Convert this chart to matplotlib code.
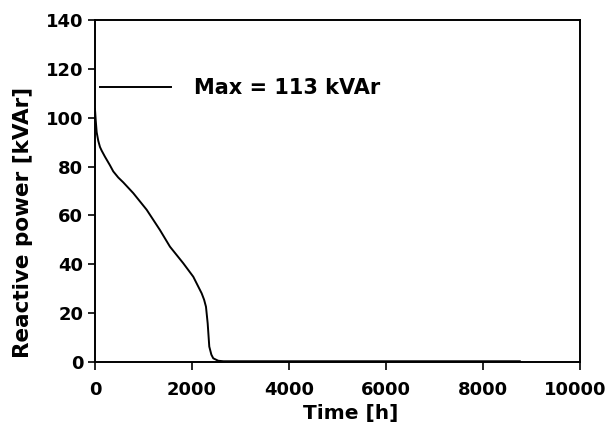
import matplotlib.pyplot as plt
import matplotlib.transforms as mtransforms

# duration curve of reactive power
hours = [0, 15, 35, 68, 103, 138, 206, 309, 377, 480, 584, 790, 1066, 1340, 1546,
         1821, 2027, 2200, 2250, 2289, 2324, 2357, 2400, 2439, 2542, 2650, 8760]
power = [103.5, 99, 94, 90.5, 88, 86.5, 84, 80.5, 78, 75.5, 73.5, 69.1, 62.3, 54, 47.2,
         40.4, 34.9, 28.1, 25.5, 22.6, 15.8, 6.3, 3.0, 1.5, 0.5, 0.3, 0.3]
legend_label = "Max = 113 kVAr"

plt.rcParams['font.family'] = ['DejaVu Sans']
plt.rcParams['font.weight'] = 'bold'

fig = plt.figure(figsize=(6.1, 4.33), dpi=100)
ax = fig.add_axes([0.1557, 0.164, 0.795, 0.790])

ax.plot(hours, power, color='black', lw=1.4, label=legend_label)

ax.set_xlim(0, 10000)
ax.set_ylim(0, 140)
ax.set_xticks(range(0, 10001, 2000))
ax.set_yticks(range(0, 141, 20))
ax.tick_params(direction='out', length=5.4, width=1.2, labelsize=13)
ax.tick_params(axis='x', pad=8.5)
ax.tick_params(axis='y', pad=3)
for s in ax.spines.values():
    s.set_linewidth(1.4)

# keep "10000" inside the picture
last = ax.get_xticklabels()[-1]
last.set_transform(last.get_transform() +
                   mtransforms.ScaledTranslation(-3.2 / 72, 0, fig.dpi_scale_trans))

ax.set_xlabel("Time [h]", fontsize=14.5, fontweight='bold')
ax.xaxis.set_label_coords(0.528, -0.123)
ax.set_ylabel("Reactive power [kVAr]", fontsize=15.5, fontweight='bold')
ax.yaxis.set_label_coords(-0.127, 0.409)

leg = ax.legend(loc='center left', bbox_to_anchor=(5 / 485, 274 / 342), frameon=False,
                borderpad=0, borderaxespad=0,
                handlelength=3.4, handletextpad=1.1,
                prop={'size': 15, 'weight': 'bold'})

fig.savefig("out.png", dpi=100)
